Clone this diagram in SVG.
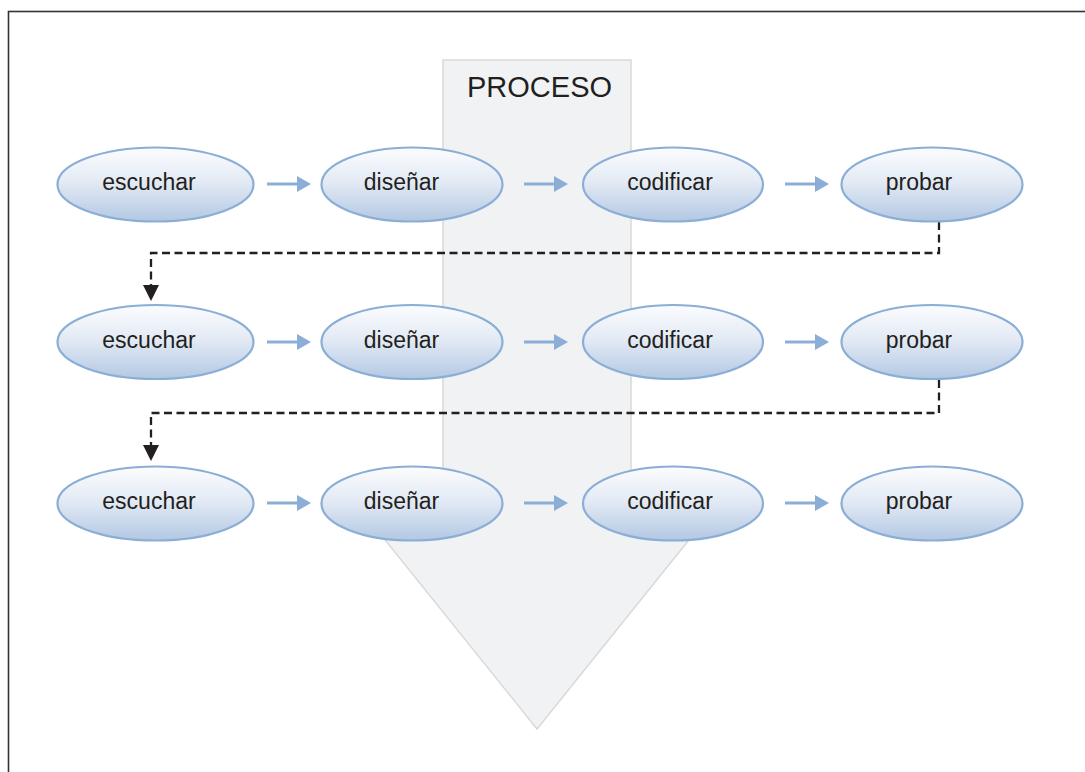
<svg xmlns="http://www.w3.org/2000/svg" width="1085" height="772" viewBox="0 0 1085 772">
<defs>
<linearGradient id="g" x1="0" y1="0" x2="0" y2="1">
<stop offset="0" stop-color="#fbfcfe"/>
<stop offset="0.45" stop-color="#e4ebf5"/>
<stop offset="1" stop-color="#b3c8e3"/>
</linearGradient>
<marker id="ab" markerWidth="14" markerHeight="18" refX="0" refY="9" orient="auto" markerUnits="userSpaceOnUse">
<path d="M0,1 L14,9 L0,17 Z" fill="#8aaed6"/>
</marker>
<marker id="ak" markerWidth="16" markerHeight="16" refX="0" refY="8" orient="auto" markerUnits="userSpaceOnUse">
<path d="M0,0 L16,8 L0,16 Z" fill="#231f20"/>
</marker>
</defs>
<style>
.n ellipse{fill:url(#g);stroke:#8aaed6;stroke-width:2.2}
.n text{font-family:"Liberation Sans",Arial,sans-serif;font-size:23px;fill:#231f20;text-anchor:middle}
.fl{stroke:#8aaed6;stroke-width:3;fill:none;marker-end:url(#ab)}
.dl{stroke:#231f20;stroke-width:2.3;stroke-dasharray:8 4.5;fill:none;marker-end:url(#ak)}
</style>
<rect x="0" y="0" width="1085" height="772" fill="#ffffff"/>
<rect x="8.5" y="11.5" width="1100" height="800" fill="none" stroke="#333333" stroke-width="1.6"/>
<g id="proceso">
<path d="M443,60 L631,60 L631,505 L717,505 L537,729 L357,505 L443,505 Z" fill="#f1f2f4" stroke="#d9d9d9" stroke-width="1.5"/>
<text x="467" y="97" font-family="Liberation Sans,Arial,sans-serif" font-size="29" fill="#231f20">PROCESO</text>
</g>
<g id="connectors">
<line class="fl" x1="267" y1="184" x2="297" y2="184"/>
<line class="fl" x1="524" y1="184" x2="554" y2="184"/>
<line class="fl" x1="785" y1="184" x2="815" y2="184"/>
<line class="fl" x1="267" y1="342" x2="297" y2="342"/>
<line class="fl" x1="524" y1="342" x2="554" y2="342"/>
<line class="fl" x1="785" y1="342" x2="815" y2="342"/>
<line class="fl" x1="267" y1="503" x2="297" y2="503"/>
<line class="fl" x1="524" y1="503" x2="554" y2="503"/>
<line class="fl" x1="785" y1="503" x2="815" y2="503"/>
<path class="dl" d="M939,222 L939,253 L151,253 L151,285"/>
<path class="dl" d="M939,380 L939,413 L151,413 L151,445"/>
</g>
<g id="n1" class="n"><ellipse cx="155.5" cy="184.5" rx="98" ry="37"/><text x="149" y="190">escuchar</text></g>
<g id="n2" class="n"><ellipse cx="412" cy="184.5" rx="90.5" ry="37"/><text x="401.5" y="190">diseñar</text></g>
<g id="n3" class="n"><ellipse cx="673" cy="184.5" rx="90" ry="37"/><text x="670" y="190">codificar</text></g>
<g id="n4" class="n"><ellipse cx="932" cy="184.5" rx="90.5" ry="37"/><text x="919" y="190">probar</text></g>
<g id="n5" class="n"><ellipse cx="155.5" cy="342" rx="98" ry="37"/><text x="149" y="347.5">escuchar</text></g>
<g id="n6" class="n"><ellipse cx="412" cy="342" rx="90.5" ry="37"/><text x="401.5" y="347.5">diseñar</text></g>
<g id="n7" class="n"><ellipse cx="673" cy="342" rx="90" ry="37"/><text x="670" y="347.5">codificar</text></g>
<g id="n8" class="n"><ellipse cx="932" cy="342" rx="90.5" ry="37"/><text x="919" y="347.5">probar</text></g>
<g id="n9" class="n"><ellipse cx="155.5" cy="503.5" rx="98" ry="37"/><text x="149" y="509">escuchar</text></g>
<g id="n10" class="n"><ellipse cx="412" cy="503.5" rx="90.5" ry="37"/><text x="401.5" y="509">diseñar</text></g>
<g id="n11" class="n"><ellipse cx="673" cy="503.5" rx="90" ry="37"/><text x="670" y="509">codificar</text></g>
<g id="n12" class="n"><ellipse cx="932" cy="503.5" rx="90.5" ry="37"/><text x="919" y="509">probar</text></g>
</svg>
